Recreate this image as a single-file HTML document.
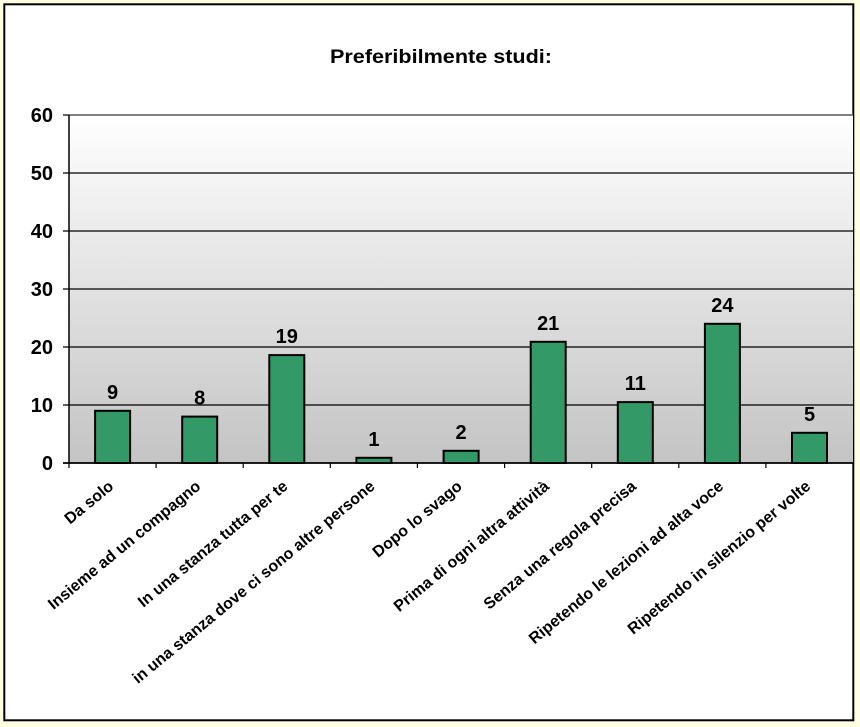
<!DOCTYPE html>
<html>
<head>
<meta charset="utf-8">
<style>
html,body{margin:0;padding:0;background:#FFFFE1;}
svg{display:block;}
text{font-family:"Liberation Sans",Arial,sans-serif;font-weight:bold;fill:#000;}
</style>
</head>
<body>
<svg width="860" height="727" viewBox="0 0 860 727" xmlns="http://www.w3.org/2000/svg">
<defs>
<linearGradient id="g" x1="0" y1="0" x2="0" y2="1">
<stop offset="0" stop-color="#FFFFFF"/>
<stop offset="1" stop-color="#C4C4C4"/>
</linearGradient>
</defs>
<rect x="0" y="0" width="860" height="727" fill="#FFFFE1"/>
<rect x="4.3" y="4.3" width="849" height="716" fill="#FFFFFF" stroke="#000" stroke-width="2"/>
<text x="441" y="63" font-size="19.5" text-anchor="middle" textLength="222" lengthAdjust="spacingAndGlyphs">Preferibilmente  studi:</text>
<rect x="69" y="115" width="784" height="348" fill="url(#g)"/>
<g stroke="#000" stroke-width="1.2">
<line x1="63" y1="173" x2="853" y2="173"/>
<line x1="63" y1="231" x2="853" y2="231"/>
<line x1="63" y1="289" x2="853" y2="289"/>
<line x1="63" y1="347" x2="853" y2="347"/>
<line x1="63" y1="405" x2="853" y2="405"/>
</g>
<line x1="69" y1="115" x2="853" y2="115" stroke="#808080" stroke-width="2"/>
<line x1="63" y1="115" x2="69" y2="115" stroke="#000" stroke-width="1.2"/>
<line x1="69" y1="115" x2="69" y2="464" stroke="#000" stroke-width="1.5"/>
<g font-size="20" text-anchor="end">
<text x="53" y="122">60</text>
<text x="53" y="180">50</text>
<text x="53" y="238">40</text>
<text x="53" y="296">30</text>
<text x="53" y="354">20</text>
<text x="53" y="412">10</text>
<text x="53" y="470">0</text>
</g>
<g fill="#339966" stroke="#000" stroke-width="2">
<rect x="95.1" y="410.8" width="35" height="52.2"/>
<rect x="182.2" y="416.6" width="35" height="46.4"/>
<rect x="269.3" y="355.1" width="35" height="107.9"/>
<rect x="356.4" y="457.8" width="35" height="5.2"/>
<rect x="443.6" y="450.8" width="35" height="12.2"/>
<rect x="530.7" y="341.8" width="35" height="121.2"/>
<rect x="617.8" y="402.1" width="35" height="60.9"/>
<rect x="704.9" y="323.8" width="35" height="139.2"/>
<rect x="792.0" y="432.8" width="35" height="30.2"/>
</g>
<line x1="63" y1="463" x2="853" y2="463" stroke="#000" stroke-width="1.8"/>
<g stroke="#000" stroke-width="1.2">
<line x1="156.1" y1="463" x2="156.1" y2="468"/>
<line x1="243.2" y1="463" x2="243.2" y2="468"/>
<line x1="330.3" y1="463" x2="330.3" y2="468"/>
<line x1="417.4" y1="463" x2="417.4" y2="468"/>
<line x1="504.6" y1="463" x2="504.6" y2="468"/>
<line x1="591.7" y1="463" x2="591.7" y2="468"/>
<line x1="678.8" y1="463" x2="678.8" y2="468"/>
<line x1="765.9" y1="463" x2="765.9" y2="468"/>
<line x1="69" y1="463" x2="69" y2="468"/>
</g>
<g font-size="20" text-anchor="middle">
<text x="112.6" y="398.8">9</text>
<text x="199.7" y="404.6">8</text>
<text x="286.8" y="343.1">19</text>
<text x="373.9" y="445.8">1</text>
<text x="461.1" y="438.8">2</text>
<text x="548.2" y="329.8">21</text>
<text x="635.3" y="390.1">11</text>
<text x="722.4" y="311.8">24</text>
<text x="809.5" y="420.8">5</text>
</g>
<g font-size="16" text-anchor="end">
<text transform="translate(114.6,488) rotate(-39.5)">Da solo</text>
<text transform="translate(201.7,488) rotate(-39.5)">Insieme ad un compagno</text>
<text transform="translate(288.8,488) rotate(-39.5)">In una stanza tutta per te</text>
<text transform="translate(375.9,488) rotate(-39.5)">in una stanza dove ci sono altre persone</text>
<text transform="translate(463.1,488) rotate(-39.5)">Dopo lo svago</text>
<text transform="translate(550.2,488) rotate(-39.5)">Prima di ogni altra attività</text>
<text transform="translate(637.3,488) rotate(-39.5)">Senza una regola precisa</text>
<text transform="translate(724.4,488) rotate(-39.5)">Ripetendo le lezioni ad alta voce</text>
<text transform="translate(811.5,488) rotate(-39.5)">Ripetendo in silenzio per volte</text>
</g>
</svg>
</body>
</html>
